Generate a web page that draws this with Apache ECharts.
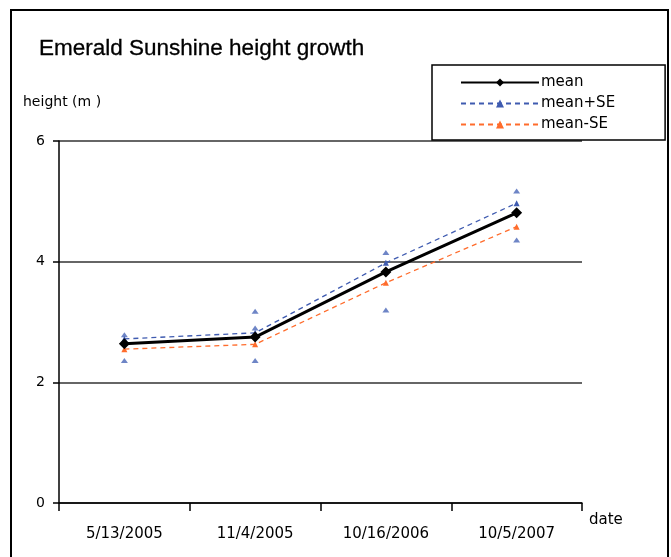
<!DOCTYPE html>
<html>
<head>
<meta charset="utf-8">
<script src="https://cdn.jsdelivr.net/npm/echarts@6/dist/echarts.min.js"></script>
<style>html,body{margin:0;padding:0;background:#fff}#c{width:671px;height:557px}</style>
</head>
<body>
<div id="c"></div>
<script>
var categories = ['5/13/2005', '11/4/2005', '10/16/2006', '10/5/2007'];
var meanValues = [2.64, 2.75, 3.83, 4.81];
var meanPlusSE = [2.72, 2.82, 3.98, 4.97];
var meanMinusSE = [2.55, 2.63, 3.65, 4.58];
var individualPoints = [
  [0, 2.79], [0, 2.36],
  [1, 3.18], [1, 2.9], [1, 2.36],
  [2, 4.15], [2, 3.2],
  [3, 5.17], [3, 4.36]
];
var yTicks = [0, 2, 4, 6];

var FONT = 'Liberation Sans, Arial, sans-serif';
var WIDE = 'DejaVu Sans, Verdana, sans-serif';
var chart = echarts.init(document.getElementById('c'));
chart.setOption({
  animation: false,
  backgroundColor: '#fff',
  title: {
    text: 'Emerald Sunshine height growth',
    left: 34, top: 32,
    textStyle: { fontFamily: FONT, fontSize: 22.5, fontWeight: 'normal', color: '#000', textBorderColor: '#000', textBorderWidth: 0.3 }
  },
  legend: {
    left: 432, top: 65,
    orient: 'vertical',
    borderColor: '#000', borderWidth: 1.5,
    padding: [10, 50, 8, 28],
    itemWidth: 78, itemHeight: 10, itemGap: 6,
    textStyle: { fontFamily: WIDE, fontSize: 15, color: '#000', padding: [0, 0, 0, -3] },
    data: ['mean', 'mean+SE', 'mean-SE']
  },
  grid: { left: 59, right: 89, top: 141, bottom: 54, containLabel: false },
  xAxis: {
    type: 'category',
    data: categories,
    boundaryGap: true,
    axisLine: { lineStyle: { color: '#000', width: 1.5 } },
    axisTick: { show: true, length: 8, lineStyle: { color: '#000', width: 1.5 } },
    axisLabel: { fontFamily: WIDE, fontSize: 15, color: '#000', margin: 24 }
  },
  yAxis: {
    type: 'value',
    min: yTicks[0], max: yTicks[yTicks.length - 1], interval: 2,
    axisLine: { show: true, lineStyle: { color: '#000', width: 1.5 } },
    axisTick: { show: true, length: 6, lineStyle: { color: '#000', width: 1.5 } },
    axisLabel: { fontFamily: WIDE, fontSize: 14, color: '#000', margin: 14 },
    splitLine: { show: true, lineStyle: { color: '#333', width: 1.5 } }
  },
  graphic: [
    { type: 'rect', shape: { x: 11, y: 10, width: 657, height: 560 }, style: { fill: null, stroke: '#000', lineWidth: 2 }, silent: true },
    { type: 'text', left: 23, top: 95, style: { text: 'height (m )', font: '14px ' + WIDE, fill: '#000' } },
    { type: 'text', left: 589, top: 513, style: { text: 'date', font: '15px ' + WIDE, fill: '#000' } }
  ],
  series: [
    {
      name: 'points', type: 'scatter', data: individualPoints,
      symbol: 'triangle', symbolSize: [7, 5],
      itemStyle: { color: '#4a66b8' }, z: 1
    },
    {
      name: 'mean+SE', type: 'line', data: meanPlusSE,
      symbol: 'triangle', symbolSize: 6, showSymbol: true,
      lineStyle: { color: '#3f5bb0', width: 1.3, type: [5, 4] },
      itemStyle: { color: '#3f5bb0' }, z: 2
    },
    {
      name: 'mean-SE', type: 'line', data: meanMinusSE,
      symbol: 'triangle', symbolSize: 6,
      lineStyle: { color: '#ff6c2c', width: 1.3, type: [5, 4] },
      itemStyle: { color: '#ff6c2c' }, z: 2
    },
    {
      name: 'mean', type: 'line', data: meanValues,
      symbol: 'diamond', symbolSize: 11,
      lineStyle: { color: '#000', width: 3 },
      itemStyle: { color: '#000' }, z: 3
    }
  ]
});
</script>
</body>
</html>
